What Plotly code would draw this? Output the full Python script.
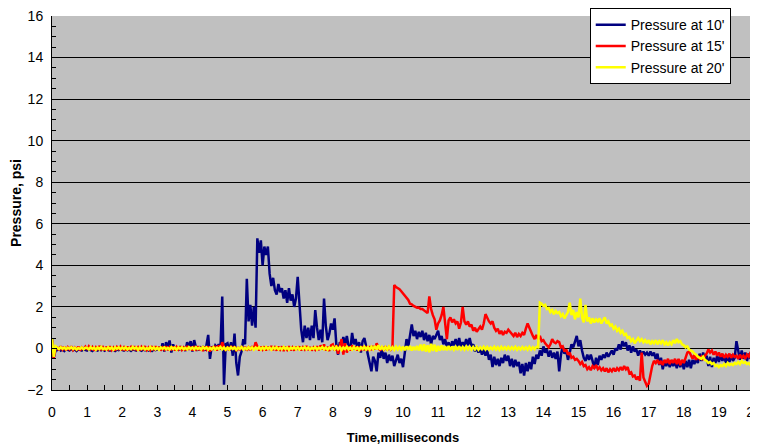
import plotly.graph_objects as go

# sample times (ms), 0.05 ms step
time_ms = [round(i * 0.05, 2) for i in range(401)]

# Pressure at 10' (psi), one row per millisecond (20 samples each) + final sample
p10 = [
    0.5, -0.45, -0.1, -0.08, -0.02, -0.1, -0.04, -0.12, -0.03, -0.08, -0.1, -0.02, -0.09, -0.05, -0.12, -0.03, -0.07, -0.1, -0.04, -0.08,
    -0.1, -0.03, -0.08, -0.12, -0.04, -0.07, -0.1, -0.02, -0.09, -0.05, -0.11, -0.04, -0.08, -0.1, -0.03, -0.07, -0.12, -0.05, -0.08, -0.04,
    -0.06, -0.1, -0.03, -0.09, -0.05, -0.12, -0.04, -0.08, -0.1, -0.02, -0.07, -0.11, -0.05, -0.09, -0.03, -0.1, -0.06, -0.12, -0.04, -0.08,
    -0.05, 0.02, -0.08, 0.25, -0.15, 0.3, 0.05, 0.38, -0.2, 0.2, -0.05, 0.08, -0.1, 0.1, -0.08, 0.05, -0.12, 0.3, 0.1, 0.35,
    -0.15, 0.4, 0.05, -0.1, 0.1, -0.08, 0.05, -0.1, 0.15, 0.65, -0.5, 0.1, -0.05, 0.15, 0.05, 0.2, 0.0, 2.5, -1.75, 0.2,
    0.25, -0.1, 0.3, -0.35, 0.72, -0.7, -1.3, -0.4, -0.15, 0.45, 0.2, 3.35, 1.3, 2.1, 1.1, 2.0, 1.0, 5.3, 4.6, 5.2,
    4.0, 4.9, 4.5, 4.9, 3.6, 3.0, 3.4, 2.8, 2.6, 3.1, 2.7, 2.9, 2.4, 2.8, 2.2, 2.9, 2.3, 2.6, 2.0, 2.4,
    3.45, 2.0, 0.9, 0.3, 1.1, 0.5, 1.0, 0.4, 1.1, 0.5, 1.85, 1.0, 0.4, 0.9, 0.3, 2.4, 1.1, 0.4, 0.7, 1.2,
    0.9, 1.45, 0.2, -0.3, 0.3, 0.1, 0.55, 0.2, 0.6, 0.1, -0.05, 0.75, 0.2, 0.45, 0.0, 0.3, -0.2, 0.35, 0.5, 0.1,
    -0.3, -0.7, -1.1, -0.4, -0.6, -1.1, -0.2, -0.45, 0.0, -0.5, -0.2, -0.7, -0.3, -0.6, -0.35, -0.85, -0.6, -0.3, -0.7, -0.5,
    -0.9, -0.1, 0.45, 0.1, 0.7, 1.15, 0.6, 0.85, 0.45, 0.8, 0.55, 0.85, 0.4, 0.75, 0.35, 0.65, 0.2, 0.6, 0.45, 0.7,
    0.85, 0.4, 0.6, 0.2, 0.45, 0.05, 0.3, -0.05, 0.35, 0.15, 0.45, 0.1, 0.5, 0.05, 0.3, 0.1, 0.45, 0.15, 0.5, 0.1,
    0.2, -0.15, 0.1, -0.2, 0.0, -0.3, -0.05, -0.35, -0.1, -0.55, -0.3, -0.9, -0.4, -0.8, -0.5, -0.85, -0.45, -0.7, -0.3, -0.6,
    -0.35, -0.85, -0.5, -0.9, -0.55, -0.85, -0.65, -1.2, -0.75, -1.3, -0.7, -1.1, -0.65, -1.0, -0.4, -0.75, -0.3, -0.5, -0.1, -0.35,
    0.1, -0.2, -0.05, -0.4, -0.1, -0.45, -0.2, -0.5, -0.15, -1.1, -0.3, 0.1, -0.25, -0.1, -0.55, -0.2, 0.2, 0.05, 0.3, 0.6,
    0.1, 0.4, -0.1, -0.45, -0.6, -0.3, -0.55, -0.3, -0.6, -0.95, -0.45, -0.8, -0.35, -0.55, -0.3, -0.45, -0.2, -0.4, -0.25, -0.1,
    -0.3, 0.0, -0.1, 0.2, -0.05, 0.35, 0.1, 0.3, -0.1, 0.15, -0.2, 0.1, -0.15, -0.05, -0.35, -0.1, -0.3, -0.15, -0.3, -0.2,
    -0.35, -0.15, -0.35, -0.2, -0.5, -0.25, -0.8, -0.45, -1.0, -0.6, -0.85, -0.6, -0.9, -0.65, -0.85, -0.6, -0.95, -0.55, -0.9, -0.6,
    -1.0, -0.6, -0.9, -0.55, -0.95, -0.55, -0.75, -0.5, -0.7, -0.25, -0.6, -0.2, -0.5, -0.35, -0.85, -0.4, -0.9, -0.45, -0.7, -0.35,
    -0.65, -0.3, -0.6, -0.35, -0.7, -0.4, -0.65, -0.3, -0.6, -0.45, 0.35, -0.2, -0.55, -0.1, -0.5, -0.2, -0.6, -0.25, -0.5, -0.15,
    -0.3,
]

# Pressure at 15' (psi)
p15 = [
    0.4, -0.45, 0.05, 0.05, -0.08, 0.1, -0.05, 0.08, -0.1, 0.06, -0.04, 0.1, -0.08, 0.04, -0.06, 0.09, -0.1, 0.05, -0.03, 0.08,
    -0.06, 0.1, -0.03, 0.07, -0.1, 0.05, -0.07, 0.12, -0.04, 0.06, -0.09, 0.08, -0.05, 0.1, -0.08, 0.04, -0.1, 0.07, -0.03, 0.09,
    -0.08, 0.05, -0.1, 0.09, -0.04, 0.07, -0.07, 0.1, -0.05, 0.06, -0.1, 0.08, -0.03, 0.11, -0.07, 0.05, -0.09, 0.06, -0.04, 0.1,
    -0.06, 0.08, -0.1, 0.05, -0.05, 0.1, -0.08, 0.06, -0.04, 0.09, -0.1, 0.07, -0.05, 0.1, -0.07, 0.05, -0.09, 0.12, -0.06, 0.08,
    -0.1, 0.06, -0.05, 0.1, -0.08, 0.07, -0.12, 0.09, -0.05, 0.1, -0.15, 0.08, -0.06, 0.12, -0.1, 0.15, -0.05, 0.3, 0.05, -0.1,
    0.08, -0.1, 0.12, -0.05, 0.1, -0.12, 0.06, -0.08, 0.1, -0.06, 0.08, -0.1, 0.05, -0.08, 0.1, -0.05, 0.3, 0.05, -0.1, 0.08,
    -0.05, 0.1, -0.1, 0.08, -0.06, 0.12, -0.08, 0.05, -0.1, 0.09, -0.05, 0.1, -0.12, 0.07, -0.06, 0.1, -0.09, 0.05, -0.1, 0.08,
    -0.06, 0.1, -0.1, 0.06, -0.05, 0.12, -0.08, 0.07, -0.1, 0.05, -0.06, 0.1, -0.08, 0.15, -0.05, 0.2, -0.1, 0.08, -0.12, 0.15,
    0.2, -0.1, 0.15, -0.25, 0.1, 0.45, -0.3, 0.25, -0.2, 0.1, -0.1, 0.15, -0.05, 0.1, -0.1, 0.08, -0.05, 0.1, -0.08, 0.05,
    -0.05, 0.1, -0.08, 0.12, -0.05, 0.25, 0.05, -0.1, 0.08, -0.05, 0.1, -0.08, 0.06, -0.05, 0.08, 3.05, 2.95, 2.9, 2.85, 2.75,
    2.65, 2.58, 2.45, 2.33, 2.15, 2.12, 2.05, 2.02, 1.96, 1.97, 1.9, 1.9, 1.83, 1.78, 1.7, 2.5, 1.9, 1.6, 1.4, 0.9,
    1.2, 1.35, 1.6, 2.0, 1.2, 0.45, 1.35, 1.5, 1.25, 1.4, 1.2, 1.3, 0.95, 1.25, 2.0, 1.3, 1.15, 1.3, 1.05, 1.15,
    0.85, 1.0, 0.8, 0.95, 1.05, 0.9, 1.2, 1.65, 1.45, 1.3, 1.2, 1.3, 1.0, 0.85, 0.95, 0.7, 0.85, 0.65, 0.8, 0.75,
    0.9, 0.8, 0.7, 0.6, 0.75, 0.55, 0.7, 0.6, 0.75, 0.65, 0.95, 1.2, 1.0, 0.75, 0.6, 0.45, 0.65, 0.45, 0.6, 0.35,
    0.4, 0.25, 0.15, 0.05, 0.2, 0.45, 0.3, 0.25, 0.35, 0.3, 0.05, 0.1, -0.15, -0.05, -0.3, -0.2, -0.45, -0.4, -0.55, -0.5,
    -0.6, -0.75, -0.65, -0.85, -0.8, -1.0, -0.9, -1.05, -0.85, -0.95, -0.8, -1.0, -0.9, -1.05, -0.95, -1.1, -0.95, -1.15, -1.0, -1.1,
    -0.95, -1.1, -0.95, -1.05, -0.9, -1.05, -0.85, -1.0, -0.9, -1.2, -1.15, -1.35, -1.3, -1.5, -1.35, -1.55, -0.2, -1.4, -1.6, -1.8,
    -1.7, -1.2, -0.85, -0.6, -0.7, -0.55, -0.75, -0.6, -0.8, -0.55, -0.7, -0.5, -0.75, -0.55, -0.7, -0.5, -0.75, -0.5, -0.8, -0.55,
    -0.7, -0.45, -0.2, -0.15, -0.35, -0.5, -0.3, -0.55, -0.35, -0.5, -0.4, -0.55, -0.35, -0.25, -0.05, -0.2, -0.1, -0.3, -0.15, -0.35,
    -0.2, -0.4, -0.25, -0.45, -0.3, -0.4, -0.25, -0.45, -0.3, -0.4, -0.35, -0.5, -0.3, -0.45, -0.35, -0.5, -0.3, -0.4, -0.2, -0.1,
    -0.05,
]

# Pressure at 20' (psi)
p20 = [
    0.5, -0.4, 0.1, 0.04, -0.03, 0.06, -0.02, 0.05, -0.04, 0.03, -0.01, 0.06, -0.03, 0.04, -0.05, 0.02, -0.02, 0.05, -0.04, 0.03,
    0.03, -0.05, 0.06, -0.02, 0.04, -0.06, 0.05, -0.03, 0.07, -0.04, 0.02, -0.05, 0.06, -0.03, 0.04, -0.06, 0.05, -0.02, 0.06, -0.04,
    0.05, -0.03, 0.06, -0.05, 0.03, -0.04, 0.07, -0.02, 0.05, -0.06, 0.04, -0.03, 0.06, -0.05, 0.02, -0.04, 0.07, -0.03, 0.05, -0.05,
    0.04, -0.06, 0.05, -0.02, 0.06, -0.04, 0.03, -0.05, 0.07, -0.03, 0.04, -0.06, 0.05, -0.02, 0.06, -0.04, 0.03, -0.05, 0.06, -0.03,
    0.05, -0.04, 0.06, -0.03, 0.04, -0.05, 0.07, -0.02, 0.05, -0.06, 0.03, -0.04, 0.06, -0.05, 0.04, -0.03, 0.07, -0.04, 0.05, -0.06,
    0.04, -0.05, 0.06, -0.03, 0.05, -0.06, 0.04, -0.02, 0.07, -0.05, 0.03, -0.04, 0.06, -0.03, 0.05, -0.06, 0.04, -0.03, 0.06, -0.05,
    0.05, -0.04, 0.07, -0.03, 0.04, -0.06, 0.05, -0.02, 0.06, -0.05, 0.03, -0.04, 0.07, -0.03, 0.05, -0.06, 0.04, -0.02, 0.06, -0.04,
    0.06, -0.05, 0.04, -0.03, 0.07, -0.04, 0.05, -0.06, 0.03, -0.02, 0.06, -0.05, 0.04, -0.03, 0.07, -0.04, 0.05, -0.06, 0.04, -0.03,
    0.07, -0.05, 0.08, -0.04, 0.06, -0.07, 0.05, -0.03, 0.08, -0.05, 0.04, -0.06, 0.07, -0.04, 0.05, -0.07, 0.06, -0.03, 0.08, -0.05,
    0.06, -0.06, 0.08, -0.04, 0.12, -0.05, 0.15, -0.06, 0.08, -0.05, 0.07, -0.06, 0.09, -0.04, 0.06, -0.07, 0.08, -0.05, 0.07, -0.06,
    0.09, -0.08, 0.1, -0.06, 0.12, -0.1, 0.08, -0.07, 0.12, -0.09, 0.18, -0.12, 0.2, -0.15, 0.15, -0.18, 0.22, -0.12, 0.18, -0.15,
    0.12, -0.1, 0.15, -0.08, 0.1, -0.09, 0.12, -0.07, 0.09, -0.06, 0.08, -0.07, 0.1, -0.05, 0.07, -0.06, 0.09, -0.05, 0.08, -0.06,
    0.07, -0.05, 0.08, -0.06, 0.06, -0.04, 0.08, -0.05, 0.07, -0.06, 0.05, -0.04, 0.08, -0.05, 0.06, -0.07, 0.08, -0.04, 0.06, -0.05,
    0.07, -0.05, 0.06, -0.04, 0.08, -0.06, 0.05, -0.05, 0.07, -0.04, 0.06, -0.06, 0.08, -0.05, 0.06, -0.04, 0.07, 0.05, 2.2, 2.15,
    2.05, 2.1, 1.9, 1.95, 1.75, 1.85, 1.65, 1.8, 1.7, 1.75, 1.55, 1.65, 1.45, 1.6, 1.75, 2.2, 1.6, 1.85, 1.4, 1.75,
    1.5, 2.4, 1.5, 1.25, 2.1, 1.3, 1.5, 1.2, 1.45, 1.25, 1.4, 1.3, 1.45, 1.2, 1.35, 1.5, 1.2, 1.3, 1.1, 1.15,
    0.95, 1.05, 0.85, 0.95, 0.75, 0.85, 0.65, 0.7, 0.5, 0.55, 0.35, 0.45, 0.25, 0.4, 0.5, 0.35, 0.45, 0.3, 0.4, 0.25,
    0.4, 0.2, 0.35, 0.25, 0.4, 0.2, 0.35, 0.25, 0.4, 0.2, 0.3, 0.15, 0.3, 0.2, 0.4, 0.25, 0.45, 0.3, 0.35, 0.2,
    0.15, 0.05, 0.1, -0.05, -0.1, -0.15, -0.25, -0.3, -0.4, -0.45, -0.5, -0.4, -0.55, -0.6, -0.7, -0.65, -0.75, -0.7, -0.85, -0.8,
    -0.9, -0.8, -0.85, -0.75, -0.85, -0.7, -0.8, -0.75, -0.8, -0.7, -0.75, -0.65, -0.75, -0.6, -0.7, -0.65, -0.75, -0.7, -0.8, -0.7,
    0.0,
]

series_names = ["Pressure at 10'", "Pressure at 15'", "Pressure at 20'"]
series_colors = ["#000080", "#FF0000", "#FFFF00"]
x_ticks = list(range(0, 21))
y_ticks = list(range(-2, 17, 2))

fig = go.Figure()
for name, vals, col in zip(series_names, [p10, p15, p20], series_colors):
    fig.add_trace(go.Scatter(x=time_ms, y=vals, mode="lines", name=name,
                             line=dict(color=col, width=2.5), hoverinfo="skip"))

# the page body adds an 8 px offset on the left and top
font_family = "Liberation Sans, Arial, sans-serif"
fig.update_layout(
    width=750, height=439,
    margin=dict(l=44, r=4, t=8, b=57, autoexpand=False),
    paper_bgcolor="white",
    plot_bgcolor="#C0C0C0",
    font=dict(family=font_family, size=14, color="black"),
    showlegend=True,
    legend=dict(x=0.766, y=1.021, xanchor="left", yanchor="top",
                bgcolor="white", bordercolor="black", borderwidth=1,
                font=dict(size=14), tracegroupgap=0, itemwidth=30,
                entrywidth=129, entrywidthmode="pixels"),
    shapes=[dict(type="line", xref="paper", yref="paper", x0=1, x1=1, y0=0, y1=1,
                 line=dict(color="#808080", width=1.5))],
)
fig.update_xaxes(
    range=[0, 20], tickvals=x_ticks, showgrid=False, zeroline=False,
    showline=True, linecolor="black", linewidth=1, automargin=False,
    ticks="inside", ticklen=5, tickcolor="black",
    minor=dict(dtick=0.5, ticks="inside", ticklen=5, tickcolor="black"),
    ticklabelstandoff=9, ticklabeloverflow="allow",
    title=dict(text="<b>Time,milliseconds</b>", font=dict(size=13), standoff=14),
)
fig.update_yaxes(
    range=[-2, 16], tickvals=y_ticks, showgrid=True, gridcolor="black", gridwidth=1,
    zeroline=False, showline=True, linecolor="black", linewidth=1, automargin=False,
    ticks="inside", ticklen=5, tickcolor="black",
    minor=dict(dtick=0.5, ticks="inside", ticklen=4, tickcolor="black", showgrid=False),
    ticklabelstandoff=5, ticklabeloverflow="allow",
    title=dict(text="<b>Pressure, psi</b>", font=dict(size=14), standoff=2),
)

fig.write_html("out.html", config={"displayModeBar": False})
